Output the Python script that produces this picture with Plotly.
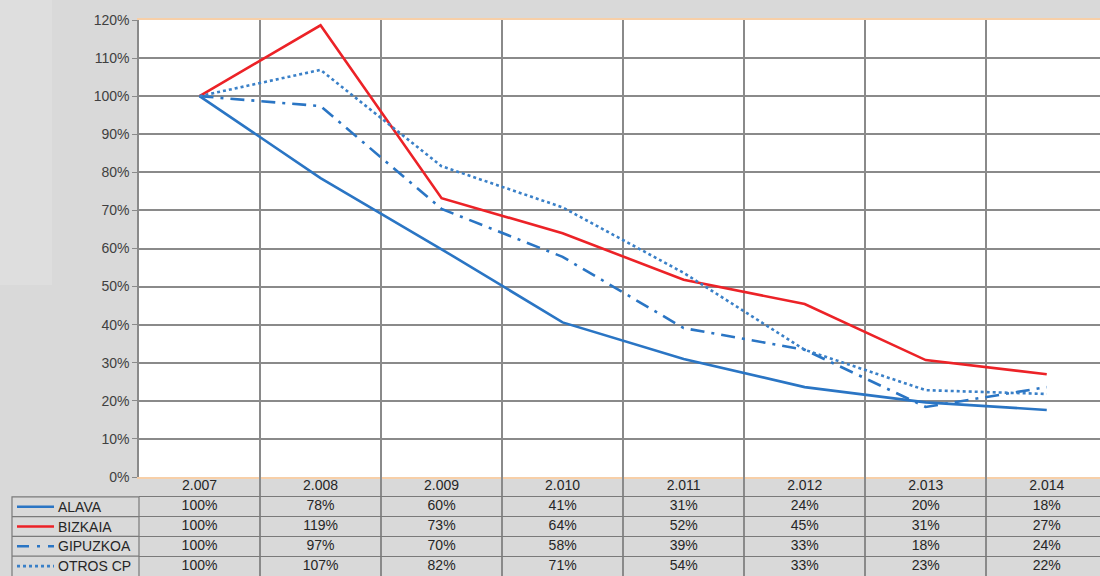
import plotly.graph_objects as go

years = ["2.007", "2.008", "2.009", "2.010", "2.011", "2.012", "2.013", "2.014"]
alava = [1.00, 0.785, 0.598, 0.406, 0.310, 0.236, 0.196, 0.176]
bizkaia = [1.00, 1.186, 0.732, 0.640, 0.518, 0.454, 0.307, 0.270]
gipuzkoa = [1.00, 0.974, 0.704, 0.578, 0.391, 0.334, 0.184, 0.236]
otros = [1.00, 1.069, 0.816, 0.708, 0.536, 0.334, 0.228, 0.218]

series = [
    ("ALAVA", alava, "#2a75c4", "solid"),
    ("BIZKAIA", bizkaia, "#ec2227", "solid"),
    ("GIPUZKOA", gipuzkoa, "#2a75c4", "14px,7px,3px,7px"),
    ("OTROS CP", otros, "#3a80c8", "dot"),
]

W, H = 1100, 576
L, T = 139, 20
PW = W - L
PH = H - T
TABLE_PX = 99
FONT = "Liberation Sans, Arial"

def px_x(p):
    return (p - L) / PW

fig = go.Figure()

for name, vals, color, dash in series:
    fig.add_trace(go.Scatter(x=years, y=vals, mode="lines", name=name,
                             line=dict(color=color, width=2.6, dash=dash),
                             xaxis="x", yaxis="y", showlegend=False))

# table header
fig.add_trace(go.Scatter(x=years, y=[0.5] * len(years), mode="text",
                         text=years, textfont=dict(family=FONT, size=14, color="#262626"),
                         xaxis="x", yaxis="y2", showlegend=False, hoverinfo="skip", cliponaxis=False))
for i, (name, vals, color, dash) in enumerate(series):
    fig.add_trace(go.Scatter(x=years, y=[1.5 + i] * len(years), mode="text",
                             text=[f"{round(v * 100)}%" for v in vals],
                             textfont=dict(family=FONT, size=14, color="#262626"),
                             xaxis="x", yaxis="y2", showlegend=False, hoverinfo="skip", cliponaxis=False))

shapes = []
# lighter top-left patch
shapes.append(dict(type="rect", xref="paper", yref="paper", x0=px_x(0), x1=px_x(52),
                   y0=1 - (285 - T) / PH, y1=1 + T / PH, fillcolor="#dedede", line=dict(width=0), layer="below"))
# white plot area
shapes.append(dict(type="rect", xref="paper", yref="paper", x0=0, x1=1,
                   y0=TABLE_PX / PH, y1=1, fillcolor="white", line=dict(width=0), layer="below"))
# legend column box
lx0, lx1 = px_x(12), 0
shapes.append(dict(type="rect", xref="paper", yref="y2", x0=lx0, x1=lx1, y0=1, y1=5.2,
                   line=dict(color="#7a7a7a", width=1.2), fillcolor="rgba(0,0,0,0)"))
for r in [2, 3, 4]:
    shapes.append(dict(type="line", xref="paper", yref="y2", x0=lx0, x1=lx1, y0=r, y1=r,
                       line=dict(color="#7a7a7a", width=1.2)))
annotations = []
for i, (name, vals, color, dash) in enumerate(series):
    yc = 1.5 + i
    shapes.append(dict(type="line", xref="paper", yref="y2", x0=px_x(17), x1=px_x(54), y0=yc, y1=yc,
                       line=dict(color=color, width=2.6,
                                 dash=("12px,8px,3px,8px" if dash.startswith("14") else dash))))
    annotations.append(dict(xref="paper", yref="y2", x=px_x(56), y=yc, text=name, showarrow=False,
                            xanchor="left", yanchor="middle",
                            font=dict(family=FONT, size=14, color="#262626")))

fig.update_layout(
    width=W, height=H,
    margin=dict(l=L, r=0, t=T, b=0, pad=0, autoexpand=False),
    paper_bgcolor="#d9d9d9",
    plot_bgcolor="rgba(0,0,0,0)",
    shapes=shapes,
    annotations=annotations,
    xaxis=dict(type="category", categoryorder="array", categoryarray=years,
               range=[-0.5, 7.44], tickson="boundaries", showgrid=True,
               gridcolor="#8a8a8a", gridwidth=1.6, showticklabels=False, ticks="",
               showline=True, mirror=True, linecolor="#f7cfa8", linewidth=1.5,
               anchor="y", zeroline=False, automargin=False),
    yaxis=dict(domain=[TABLE_PX / PH, 1], range=[0, 1.2], dtick=0.1, tickformat=".0%",
               showgrid=True, gridcolor="#8a8a8a", gridwidth=1.6, zeroline=False,
               showline=True, linecolor="#8a8a8a", linewidth=1.5,
               ticks="outside", ticklen=5, tickcolor="#8a8a8a", tickwidth=1.2,
               tickfont=dict(family=FONT, size=14, color="#404040"), automargin=False),
    yaxis2=dict(domain=[0, TABLE_PX / PH], range=[5, 0], tickvals=[1, 2, 3, 4],
                showgrid=True, gridcolor="#7a7a7a", gridwidth=1.2, zeroline=False,
                showticklabels=False, ticks="", showline=False, anchor="x", automargin=False),
)

fig.write_html("out.html", config={"displayModeBar": False},
               post_script="document.body.style.margin='0';document.body.style.overflow='hidden';")
